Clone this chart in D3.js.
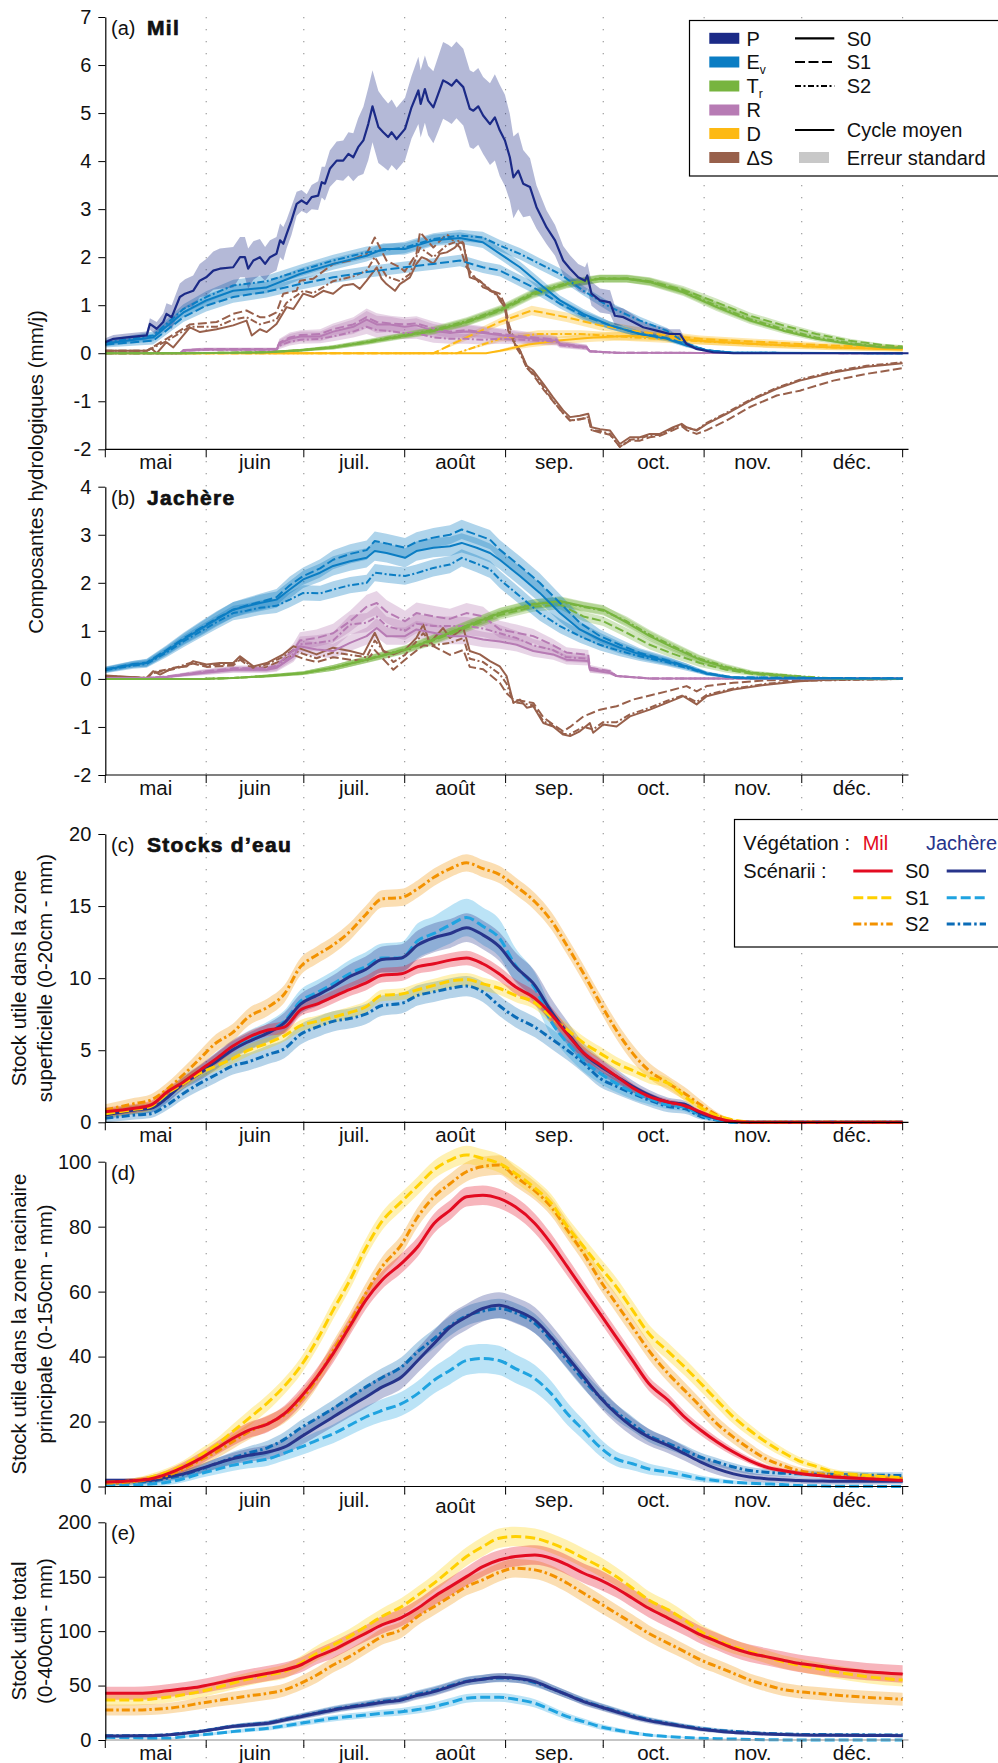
<!DOCTYPE html>
<html><head><meta charset="utf-8">
<script src="https://cdn.jsdelivr.net/npm/d3@7"></script>
<style>body{margin:0;background:#fff}svg{display:block}text{font-family:"Liberation Sans",Arial,sans-serif;fill:#111}</style>
</head><body><svg id="chart" width="998" height="1763"></svg>
<script>
// ---------- categories / ticks ----------
const monthNames = ["mai","juin","juil.","août","sep.","oct.","nov.","déc."];
const monthStarts = [0,31,61,92,123,153,184,214,245];
const ticksA = [-2,-1,0,1,2,3,4,5,6,7];
const ticksB = [-2,-1,0,1,2,3,4];
const ticksC = [0,5,10,15,20];
const ticksD = [0,20,40,60,80,100];
const ticksE = [0,50,100,150,200];
const varNames = ["P","E","T","R","D","ΔS"];
const varSubs = ["","v","r","","",""];
const scenarioNames = ["S0","S1","S2"];

// ---------- panel (a) Mil : [day, mean, se] ----------
const milP = [[0,0.23,0.08],[2.5,0.3,0.08],[6.6,0.33,0.08],[12.7,0.37,0.08],[13.7,0.61,0.12],[15.8,0.51,0.14],[17.8,0.65,0.18],[18.8,0.82,0.22],[20.4,0.75,0.25],[22.9,1.17,0.28],[24.5,1.24,0.3],[27,1.3,0.32],[29,1.51,0.35],[31,1.58,0.38],[33.2,1.72,0.4],[35.2,1.76,0.42],[39.3,1.79,0.42],[41.4,2.0,0.42],[42.9,2.0,0.42],[43.9,1.76,0.42],[45.5,1.93,0.4],[47.5,2.0,0.38],[49.1,1.86,0.35],[50.6,2.0,0.35],[52.6,2.07,0.35],[53.7,2.35,0.35],[54.7,2.28,0.35],[55.7,2.48,0.3],[57.2,2.76,0.3],[58.8,3.11,0.25],[60.3,3.18,0.22],[61.9,3.11,0.2],[63.4,3.25,0.25],[65.4,3.28,0.3],[66.5,3.56,0.32],[67.5,3.53,0.35],[69,3.84,0.38],[71.1,4.01,0.4],[73.1,4.01,0.42],[74.7,4.15,0.45],[76.2,4.08,0.5],[77.7,4.29,0.6],[79.3,4.43,0.7],[80.8,4.77,0.75],[82.1,5.14,0.75],[83.9,4.71,0.75],[85.4,4.6,0.72],[86.9,4.5,0.7],[88,4.6,0.68],[89.5,4.46,0.65],[92.1,4.67,0.65],[94.1,5.12,0.65],[96.2,5.47,0.7],[96.9,5.19,0.7],[98.2,5.5,0.7],[99.2,5.26,0.72],[100.8,5.12,0.75],[102.3,5.4,0.78],[103.8,5.68,0.8],[105.4,5.62,0.8],[106.4,5.57,0.8],[107.9,5.69,0.8],[110,5.54,0.8],[112,5.09,0.8],[113.1,5.05,0.8],[114.6,5.14,0.8],[116.1,4.95,0.8],[118.2,4.77,0.85],[119.7,4.91,0.9],[121.2,4.64,0.95],[122.8,4.43,0.95],[124.3,4.08,0.9],[125.4,3.66,0.85],[126.9,3.8,0.8],[128.4,3.53,0.7],[130.5,3.46,0.6],[132.5,3.04,0.45],[135.6,2.62,0.35],[138.2,2.35,0.32],[140.7,1.93,0.3],[142.8,1.76,0.28],[145.3,1.58,0.28],[147.4,1.51,0.28],[148.1,1.62,0.28],[149.4,1.24,0.25],[152,1.1,0.25],[155.1,1.06,0.25],[156.6,0.78,0.2],[159.2,0.75,0.18],[162.2,0.65,0.15],[165.3,0.54,0.12],[169.4,0.47,0.1],[173.5,0.4,0.1],[176.6,0.4,0.1],[178.6,0.19,0.05],[181.7,0.09,0.03],[186.8,0.02,0.01],[193,0,0],[246.8,0,0]];

const milEvS0 = [[0,0.2,0.06],[14.7,0.33,0.08],[24,0.85,0.1],[31,1.1,0.12],[39.3,1.3,0.12],[49.6,1.37,0.12],[59.8,1.65,0.12],[70,1.86,0.12],[80.3,2.03,0.12],[85.4,2.17,0.12],[92,2.17,0.12],[100.8,2.35,0.12],[109,2.4,0.12],[116,2.31,0.12],[121.3,2.07,0.12],[127.4,1.79,0.12],[133.5,1.44,0.12],[139.7,1.1,0.1],[146.9,0.82,0.1],[155.1,0.58,0.08],[164.3,0.4,0.06],[172.5,0.3,0.05],[178.6,0.16,0.04],[184.8,0.06,0.02],[193,0.01,0.01],[245,0,0]];
const milEvS1 = [[0,0.18,0.06],[14.7,0.26,0.08],[24,0.75,0.1],[31,0.99,0.12],[39.3,1.17,0.12],[49.6,1.28,0.12],[59.8,1.44,0.12],[70,1.58,0.12],[80.3,1.69,0.12],[92,1.79,0.12],[100.8,1.86,0.12],[109,1.93,0.12],[116,1.79,0.12],[121.3,1.72,0.12],[127.4,1.51,0.12],[133.5,1.3,0.12],[139.7,1.03,0.1],[146.9,0.78,0.1],[155.1,0.58,0.08],[164.3,0.4,0.06],[172.5,0.32,0.05],[178.6,0.18,0.04],[184.8,0.06,0.02],[193,0.01,0.01],[245,0,0]];
const milEvS2 = [[0,0.22,0.06],[14.7,0.37,0.08],[24,0.92,0.1],[31,1.17,0.12],[39.3,1.41,0.12],[49.6,1.5,0.12],[59.8,1.72,0.12],[70,1.93,0.12],[80.3,2.1,0.12],[92,2.2,0.12],[100.8,2.38,0.12],[109,2.45,0.12],[116,2.41,0.12],[121.3,2.24,0.12],[127.4,2.07,0.12],[133.5,1.86,0.12],[139.7,1.65,0.12],[146.9,1.3,0.1],[155.1,0.96,0.1],[164.3,0.68,0.08],[172.5,0.47,0.06],[178.6,0.2,0.04],[184.8,0.06,0.02],[193,0.01,0.01],[245,0,0]];

const milTrS0 = [[0,0,0],[25,0,0],[49.6,0.02,0.02],[59.8,0.06,0.03],[70,0.12,0.04],[80.3,0.23,0.05],[92,0.37,0.06],[100.8,0.47,0.07],[111,0.65,0.08],[121.3,0.9,0.08],[131.5,1.24,0.08],[141.7,1.44,0.08],[152,1.55,0.08],[160.2,1.55,0.08],[167.3,1.48,0.08],[177.6,1.27,0.08],[187.8,0.96,0.08],[198.1,0.68,0.07],[208.3,0.47,0.06],[218.5,0.3,0.05],[228.8,0.19,0.04],[239,0.12,0.03],[245,0.11,0.03]];
const milTrS1 = [[0,0,0],[25,0,0],[49.6,0.02,0.02],[59.8,0.06,0.03],[70,0.12,0.04],[80.3,0.22,0.05],[92,0.36,0.06],[100.8,0.46,0.07],[111,0.64,0.08],[121.3,0.88,0.08],[131.5,1.22,0.08],[141.7,1.43,0.08],[152,1.55,0.08],[160.2,1.56,0.08],[167.3,1.5,0.08],[177.6,1.32,0.08],[187.8,1.06,0.08],[198.1,0.78,0.07],[208.3,0.58,0.06],[218.5,0.4,0.05],[228.8,0.26,0.04],[239,0.17,0.03],[245,0.14,0.03]];
const milTrS2 = [[0,0,0],[25,0,0],[49.6,0.02,0.02],[59.8,0.06,0.03],[70,0.13,0.04],[80.3,0.24,0.05],[92,0.38,0.06],[100.8,0.49,0.07],[111,0.67,0.08],[121.3,0.92,0.08],[131.5,1.26,0.08],[141.7,1.46,0.08],[152,1.56,0.08],[160.2,1.55,0.08],[167.3,1.49,0.08],[177.6,1.29,0.08],[187.8,0.99,0.08],[198.1,0.71,0.07],[208.3,0.5,0.06],[218.5,0.33,0.05],[228.8,0.21,0.04],[239,0.13,0.03],[245,0.12,0.03]];

const milRS0 = [[0,0,0],[23,0,0],[24,0.06,0.03],[30.6,0.08,0.03],[52.6,0.08,0.03],[53.5,0.2,0.08],[56.7,0.3,0.1],[60,0.35,0.1],[66,0.35,0.1],[70,0.45,0.12],[76.2,0.55,0.15],[80.3,0.7,0.18],[83.4,0.6,0.18],[87.5,0.6,0.16],[92,0.55,0.15],[95.6,0.58,0.15],[100.8,0.47,0.14],[105.9,0.42,0.13],[111,0.45,0.13],[116.1,0.42,0.12],[121.2,0.38,0.12],[131.5,0.3,0.1],[138.7,0.26,0.08],[139.7,0.19,0.06],[147.9,0.12,0.05],[148.9,0.04,0.02],[157,0.01,0],[245,0,0]];
const milRS1 = [[0,0,0],[23,0,0],[24,0.06,0.03],[30.6,0.09,0.03],[52.6,0.09,0.03],[53.5,0.22,0.08],[56.7,0.33,0.1],[60,0.38,0.1],[66,0.4,0.1],[70,0.5,0.12],[76.2,0.6,0.15],[80.3,0.75,0.18],[83.4,0.65,0.18],[87.5,0.62,0.16],[92,0.6,0.15],[95.6,0.62,0.15],[100.8,0.52,0.14],[105.9,0.45,0.13],[111,0.48,0.13],[116.1,0.44,0.12],[121.2,0.4,0.12],[131.5,0.33,0.1],[138.7,0.28,0.08],[139.7,0.2,0.06],[147.9,0.13,0.05],[148.9,0.04,0.02],[157,0.01,0],[245,0,0]];
const milRS2 = [[0,0,0],[23,0,0],[24,0.05,0.03],[30.6,0.07,0.03],[52.6,0.07,0.03],[53.5,0.16,0.07],[56.7,0.24,0.08],[60,0.28,0.08],[66,0.3,0.09],[70,0.35,0.1],[76.2,0.45,0.12],[80.3,0.55,0.15],[83.4,0.48,0.15],[87.5,0.46,0.14],[92,0.42,0.13],[95.6,0.42,0.12],[100.8,0.33,0.11],[105.9,0.3,0.1],[111,0.3,0.1],[116.1,0.28,0.1],[121.2,0.3,0.1],[131.5,0.27,0.09],[138.7,0.24,0.08],[139.7,0.17,0.06],[147.9,0.11,0.05],[148.9,0.04,0.02],[157,0.01,0],[245,0,0]];

const milDS0 = [[0,0,0],[117,0,0],[121.3,0.05,0.03],[130,0.18,0.06],[140,0.27,0.08],[150,0.33,0.09],[160,0.36,0.09],[170,0.35,0.09],[182.7,0.26,0.08],[203.2,0.18,0.07],[223.7,0.12,0.06],[245,0.08,0.05]];
const milDS1 = [[0,0,0],[100.8,0,0],[110,0.3,0.06],[121.2,0.65,0.08],[131,0.89,0.1],[141.7,0.75,0.1],[152,0.58,0.1],[162.2,0.47,0.09],[172.5,0.37,0.08],[182.7,0.3,0.07],[193,0.26,0.07],[203.2,0.23,0.06],[213.4,0.19,0.06],[223.7,0.16,0.05],[233.9,0.14,0.05],[245,0.11,0.05]];
const milDS2 = [[0,0,0],[108,0,0],[121.2,0.3,0.06],[133,0.4,0.08],[146,0.4,0.08],[162.2,0.33,0.08],[182.7,0.25,0.07],[203.2,0.18,0.06],[223.7,0.12,0.05],[245,0.09,0.05]];

const milDeltaS0 = [[0,0.05],[12.7,0.05],[14.2,0.1],[15.8,0.0],[18.8,0.23],[20.9,0.12],[26,0.54],[29.1,0.44],[34.2,0.5],[39.3,0.58],[43.4,0.68],[45,0.37],[47.5,0.5],[49.6,0.44],[52.6,0.61],[55.7,0.96],[57.8,0.92],[60.8,1.24],[63.9,1.17],[67,1.3],[70,1.24],[73.1,1.41],[76.2,1.44],[78.2,1.34],[80.3,1.51],[83.4,1.79],[84.9,1.55],[86.4,1.44],[89,1.3],[90.5,1.44],[93.6,1.58],[95.6,1.86],[97.2,2.0],[98.7,1.96],[100.8,1.86],[102.8,2.07],[104.9,2.1],[107.4,2.2],[109,2.31],[110,2.28],[112,1.58],[115.1,1.51],[118.2,1.3],[120.2,1.24],[121.2,1.1],[122.8,0.96],[123.8,0.47],[125.9,0.19],[127.4,0.06],[129.5,-0.26],[131.5,-0.36],[134.6,-0.64],[137.6,-0.92],[140.7,-1.19],[142.8,-1.33],[145.8,-1.3],[148.4,-1.26],[149.4,-1.54],[152,-1.58],[155.1,-1.61],[158.1,-1.89],[161.2,-1.75],[164.3,-1.75],[167.3,-1.68],[170.4,-1.68],[174.5,-1.54],[177.1,-1.47],[178.6,-1.54],[181.7,-1.61],[184.8,-1.47],[190.9,-1.26],[198.1,-0.99],[206.3,-0.74],[213.4,-0.57],[223.7,-0.4],[233.9,-0.28],[245,-0.21]];
const milDeltaS1 = [[0,0.05],[12.7,0.05],[18.8,0.3],[26,0.6],[34.2,0.65],[39.3,0.82],[43.4,0.89],[47.5,0.75],[49.6,0.75],[52.6,0.85],[54.7,1.24],[58.8,1.3],[59.8,1.51],[63.9,1.55],[70,1.86],[75.2,1.93],[80.3,2.07],[82.8,2.41],[86.4,1.93],[90.5,1.79],[92,1.7],[95.6,2.07],[96.7,2.52],[100.8,2.2],[104.9,2.48],[109,2.2],[111,1.79],[116.1,1.37],[121.2,1.24],[122.8,1.0],[124,0.6],[126,0.2],[127.4,0.06],[129.5,-0.3],[131.5,-0.45],[134.6,-0.75],[137.6,-1.0],[140.7,-1.25],[142.8,-1.4],[145.8,-1.37],[148.4,-1.35],[149.4,-1.6],[152,-1.65],[155.1,-1.7],[158.1,-1.95],[161.2,-1.82],[164.3,-1.82],[167.3,-1.75],[170.4,-1.72],[174.5,-1.6],[177.1,-1.52],[178.6,-1.6],[181.7,-1.68],[184.8,-1.6],[190.9,-1.4],[198.1,-1.12],[206.3,-0.88],[213.4,-0.78],[223.7,-0.57],[233.9,-0.43],[245,-0.31]];
const milDeltaS2 = [[0,0.05],[12.7,0.05],[18.8,0.25],[26,0.55],[34.2,0.55],[39.3,0.7],[43.4,0.75],[47.5,0.6],[52.6,0.7],[55.7,1.05],[60.8,1.3],[63.9,1.25],[70,1.5],[76.2,1.6],[80.3,1.72],[82.8,2.0],[86.4,1.6],[90.5,1.5],[93.6,1.65],[96.7,2.2],[100.8,2.0],[104.9,2.25],[109,2.35],[110,2.3],[112,1.65],[116.1,1.45],[121.2,1.15],[122.8,0.95],[124,0.5],[126,0.15],[127.4,0.0],[129.5,-0.3],[131.5,-0.42],[134.6,-0.7],[137.6,-1.0],[140.7,-1.25],[142.8,-1.4],[145.8,-1.38],[148.4,-1.33],[149.4,-1.6],[152,-1.62],[155.1,-1.68],[158.1,-1.95],[161.2,-1.8],[164.3,-1.78],[167.3,-1.7],[170.4,-1.7],[174.5,-1.56],[177.1,-1.5],[178.6,-1.55],[181.7,-1.6],[184.8,-1.45],[190.9,-1.24],[198.1,-0.97],[206.3,-0.72],[213.4,-0.55],[223.7,-0.38],[233.9,-0.26],[245,-0.19]];

// ---------- panel (b) Jachère ----------
const jacEvS0 = [[0,0.19,0.06],[8.6,0.3,0.07],[12.7,0.33,0.08],[18.8,0.58,0.1],[24,0.82,0.12],[29.1,1.03,0.14],[34.2,1.24,0.15],[39.3,1.44,0.16],[43.4,1.51,0.16],[47.5,1.58,0.17],[52.6,1.65,0.17],[56.7,1.86,0.18],[60.8,2.07,0.18],[66,2.21,0.19],[70,2.35,0.2],[75.2,2.45,0.2],[80.3,2.52,0.2],[82.8,2.66,0.2],[86.4,2.62,0.2],[92.1,2.52,0.2],[95.6,2.66,0.2],[100.8,2.73,0.2],[105.9,2.76,0.2],[109.5,2.83,0.2],[114.1,2.73,0.2],[118.2,2.62,0.2],[121.2,2.48,0.2],[127.4,2.14,0.2],[133.5,1.79,0.2],[139.7,1.37,0.18],[145.8,1.03,0.16],[152,0.82,0.14],[158.1,0.65,0.12],[164.3,0.51,0.1],[172.5,0.37,0.08],[178.6,0.26,0.06],[184.8,0.11,0.04],[190.9,0.04,0.02],[198.1,0.01,0.01],[245,0.01,0]];
const jacEvS1 = [[0,0.2,0.06],[8.6,0.31,0.07],[12.7,0.34,0.08],[18.8,0.6,0.1],[24,0.84,0.12],[29.1,1.05,0.14],[34.2,1.26,0.15],[39.3,1.44,0.16],[43.4,1.53,0.16],[47.5,1.6,0.17],[52.6,1.7,0.17],[56.7,1.95,0.18],[60.8,2.14,0.18],[66,2.3,0.19],[70,2.48,0.2],[75.2,2.6,0.2],[80.3,2.68,0.2],[82.8,2.87,0.2],[86.4,2.82,0.2],[92.1,2.73,0.2],[95.6,2.85,0.2],[100.8,2.94,0.2],[105.9,3.0,0.2],[109.5,3.11,0.2],[114.1,3.0,0.2],[118.2,2.9,0.2],[121.2,2.69,0.2],[127.4,2.35,0.2],[133.5,2.0,0.2],[139.7,1.58,0.18],[145.8,1.17,0.16],[152,0.89,0.14],[158.1,0.71,0.12],[164.3,0.54,0.1],[172.5,0.39,0.08],[178.6,0.26,0.06],[184.8,0.12,0.04],[193,0.03,0.02],[245,0.01,0]];
const jacEvS2 = [[0,0.18,0.06],[8.6,0.28,0.07],[12.7,0.31,0.08],[18.8,0.55,0.1],[24,0.78,0.12],[29.1,0.98,0.13],[34.2,1.18,0.14],[39.3,1.37,0.15],[43.4,1.42,0.15],[47.5,1.48,0.15],[52.6,1.52,0.15],[56.7,1.65,0.16],[60.8,1.79,0.16],[66,1.78,0.16],[70,1.86,0.17],[75.2,1.95,0.17],[80.3,2.0,0.17],[82.8,2.21,0.18],[86.4,2.18,0.18],[92.1,2.14,0.18],[95.6,2.2,0.18],[100.8,2.31,0.18],[105.9,2.38,0.18],[109.5,2.52,0.18],[114.1,2.4,0.18],[118.2,2.28,0.18],[121.2,2.07,0.18],[127.4,1.72,0.17],[133.5,1.37,0.16],[139.7,1.1,0.15],[145.8,0.89,0.14],[152,0.71,0.12],[158.1,0.58,0.11],[164.3,0.47,0.1],[172.5,0.35,0.08],[178.6,0.23,0.06],[184.8,0.11,0.04],[193,0.03,0.02],[245,0.01,0]];

const jacTrS0 = [[0,0,0],[30,0,0],[39.3,0.02,0.01],[49.6,0.06,0.03],[60.8,0.12,0.04],[70,0.23,0.06],[80.3,0.4,0.07],[92.1,0.61,0.08],[100.8,0.82,0.1],[111,1.1,0.1],[121.2,1.37,0.1],[131.5,1.55,0.1],[139.7,1.62,0.1],[146.9,1.51,0.1],[153,1.44,0.1],[160.2,1.17,0.1],[167.3,0.89,0.1],[174.5,0.65,0.09],[182.7,0.4,0.08],[190.9,0.23,0.06],[199.1,0.12,0.04],[208.3,0.07,0.03],[218.5,0.02,0.01],[228.8,0,0],[245,0,0]];
const jacTrS1 = [[0,0,0],[30,0,0],[39.3,0.02,0.01],[49.6,0.06,0.03],[60.8,0.12,0.04],[70,0.23,0.06],[80.3,0.4,0.07],[92.1,0.6,0.08],[100.8,0.8,0.1],[111,1.07,0.1],[121.2,1.33,0.1],[131.5,1.5,0.1],[139.7,1.55,0.1],[146.9,1.3,0.1],[153,1.2,0.1],[160.2,0.96,0.1],[167.3,0.71,0.1],[174.5,0.52,0.09],[182.7,0.33,0.08],[190.9,0.19,0.06],[199.1,0.1,0.04],[208.3,0.05,0.03],[218.5,0.02,0.01],[228.8,0,0],[245,0,0]];
const jacTrS2 = [[0,0,0],[30,0,0],[39.3,0.02,0.01],[49.6,0.06,0.03],[60.8,0.12,0.04],[70,0.23,0.06],[80.3,0.41,0.07],[92.1,0.62,0.08],[100.8,0.83,0.1],[111,1.11,0.1],[121.2,1.38,0.1],[131.5,1.56,0.1],[139.7,1.6,0.1],[146.9,1.5,0.1],[153,1.42,0.1],[160.2,1.2,0.1],[167.3,0.92,0.1],[174.5,0.68,0.09],[182.7,0.42,0.08],[190.9,0.25,0.06],[199.1,0.13,0.04],[208.3,0.08,0.03],[218.5,0.03,0.01],[228.8,0,0],[245,0,0]];

const jacRS0 = [[0,0.02,0.01],[12.7,0.02,0.01],[18.8,0.04,0.02],[29.1,0.12,0.05],[39.3,0.19,0.06],[49.6,0.19,0.06],[52.6,0.23,0.08],[57.8,0.47,0.12],[59.8,0.68,0.15],[64.9,0.61,0.15],[70,0.58,0.15],[75.2,0.75,0.17],[80.3,0.89,0.18],[83.4,1.06,0.2],[86.4,0.89,0.18],[92.1,0.89,0.18],[95.6,1.03,0.18],[100.8,0.96,0.18],[105.9,0.89,0.17],[111,0.89,0.17],[116.1,0.82,0.16],[121.2,0.78,0.15],[126.4,0.71,0.14],[131.5,0.58,0.12],[137.6,0.51,0.11],[141.7,0.4,0.1],[148.4,0.37,0.09],[148.9,0.19,0.06],[155.1,0.12,0.04],[157.1,0.06,0.02],[167.3,0.01,0],[245,0.01,0]];
const jacRS1 = [[0,0.02,0.01],[12.7,0.02,0.01],[18.8,0.05,0.02],[29.1,0.14,0.05],[39.3,0.22,0.06],[49.6,0.22,0.06],[52.6,0.28,0.08],[57.8,0.6,0.14],[59.8,0.8,0.17],[64.9,0.85,0.18],[70,0.95,0.2],[75.2,1.2,0.22],[80.3,1.5,0.25],[83.4,1.58,0.25],[86.4,1.4,0.24],[92.1,1.2,0.22],[95.6,1.37,0.22],[100.8,1.3,0.22],[105.9,1.25,0.21],[111,1.37,0.21],[116.1,1.3,0.2],[121.2,1.03,0.18],[126.4,0.96,0.17],[131.5,0.89,0.15],[137.6,0.7,0.13],[141.7,0.55,0.11],[148.4,0.5,0.1],[148.9,0.23,0.06],[155.1,0.16,0.04],[157.1,0.06,0.02],[167.3,0.01,0],[245,0.01,0]];
const jacRS2 = [[0,0.02,0.01],[12.7,0.02,0.01],[18.8,0.04,0.02],[29.1,0.13,0.05],[39.3,0.2,0.06],[49.6,0.2,0.06],[52.6,0.25,0.08],[57.8,0.52,0.13],[59.8,0.72,0.16],[64.9,0.75,0.16],[70,0.8,0.17],[75.2,1.13,0.2],[80.3,1.17,0.2],[83.4,1.3,0.22],[86.4,1.1,0.2],[92.1,1.0,0.19],[95.6,1.15,0.2],[100.8,1.1,0.2],[105.9,1.1,0.2],[111,1.1,0.19],[116.1,1.05,0.18],[121.2,0.95,0.17],[126.4,0.85,0.15],[131.5,0.7,0.13],[137.6,0.6,0.12],[141.7,0.45,0.1],[148.4,0.42,0.09],[148.9,0.2,0.06],[155.1,0.14,0.04],[157.1,0.06,0.02],[167.3,0.01,0],[245,0.01,0]];

const jacDeltaS0 = [[0,0.07],[12.7,0.02],[14.7,0.16],[16.8,0.09],[20.9,0.23],[25,0.26],[27,0.37],[31.1,0.3],[35.2,0.33],[39.3,0.33],[41.4,0.47],[45.5,0.26],[49.6,0.33],[54.7,0.51],[57.8,0.68],[60.8,0.61],[64.9,0.51],[70,0.65],[75.2,0.58],[79.3,0.51],[82.8,0.96],[85.4,0.58],[88.5,0.51],[92.1,0.61],[95.6,0.85],[97.7,1.13],[99.7,0.75],[103.8,1.06],[105.9,0.85],[110,1.06],[112,0.58],[115.1,0.51],[118.2,0.37],[121.2,0.26],[123.3,0.06],[125.4,-0.5],[127.4,-0.43],[129.5,-0.6],[131.5,-0.57],[134.6,-0.92],[137.6,-0.99],[140.7,-1.16],[142.8,-1.19],[145.8,-1.09],[148.9,-0.92],[149.9,-1.12],[153,-0.95],[157.1,-0.99],[161.2,-0.78],[167.3,-0.64],[172.5,-0.5],[177.6,-0.36],[181.7,-0.53],[184.8,-0.36],[193,-0.22],[203.2,-0.12],[213.4,-0.05],[223.7,-0.01],[245,0]];
const jacDeltaS1 = [[0,0.05],[12.7,0.02],[14.7,0.12],[20.9,0.2],[27,0.32],[31.1,0.25],[39.3,0.28],[41.4,0.4],[45.5,0.2],[49.6,0.25],[54.7,0.4],[57.8,0.5],[60.8,0.42],[64.9,0.35],[70,0.45],[75.2,0.4],[80.3,0.37],[82.8,0.6],[88.5,0.19],[92.1,0.4],[97.7,0.7],[100.8,0.68],[105.9,0.5],[110,0.6],[112,0.25],[116.1,0.2],[121.2,-0.08],[123.3,-0.3],[125.4,-0.43],[131.5,-0.5],[134.6,-0.8],[137.6,-0.95],[140.7,-1.09],[142.8,-1.0],[146.9,-0.78],[152,-0.64],[157.1,-0.57],[162.2,-0.43],[172.5,-0.26],[178.6,-0.15],[181.7,-0.26],[184.8,-0.15],[193,-0.08],[203.2,-0.03],[245,0]];
const jacDeltaS2 = [[0,0.06],[12.7,0.02],[14.7,0.14],[20.9,0.22],[27,0.35],[31.1,0.28],[39.3,0.31],[41.4,0.44],[45.5,0.23],[49.6,0.3],[54.7,0.46],[57.8,0.6],[60.8,0.52],[64.9,0.43],[70,0.55],[75.2,0.5],[80.3,0.45],[82.8,0.8],[88.5,0.35],[92.1,0.5],[97.7,0.95],[100.8,0.7],[105.9,0.75],[110,0.85],[112,0.42],[116.1,0.35],[121.2,0.1],[123.3,-0.1],[125.4,-0.48],[131.5,-0.55],[134.6,-0.88],[137.6,-0.98],[140.7,-1.14],[142.8,-1.15],[146.9,-1.0],[149.9,-1.05],[153,-0.9],[157.1,-0.9],[161.2,-0.74],[167.3,-0.6],[172.5,-0.46],[177.6,-0.34],[181.7,-0.48],[184.8,-0.33],[193,-0.2],[203.2,-0.1],[213.4,-0.04],[245,0]];

// ---------- panels (c)-(e): shared day grid ----------
const gridDays = [0,9,14,19,24,29,34,39,44,50,55,60,65,70,75,80,85,91,96,101,106,111,116,121,126,132,137,142,147,152,157,162,167,173,178,183,188,193,198,203,208,213,219,224,234,245];

const cMilS0 = [0.74,0.97,1.2,2.1,2.8,3.6,4.4,5.25,5.9,6.4,6.6,7.8,8.2,8.7,9.2,9.65,10.2,10.3,10.8,11.0,11.25,11.4,11.0,10.3,9.4,8.6,7.5,6.1,4.8,4.0,3.2,2.4,1.8,1.4,1.15,0.7,0.28,0.05,0,0,0,0,0,0,0,0];
const cMilS0se = [0.3,0.3,0.3,0.3,0.35,0.35,0.4,0.4,0.4,0.4,0.45,0.45,0.45,0.45,0.45,0.5,0.5,0.5,0.5,0.5,0.5,0.5,0.5,0.5,0.5,0.5,0.5,0.5,0.45,0.4,0.35,0.3,0.25,0.2,0.2,0.15,0.1,0.05,0,0,0,0,0,0,0,0];
const cMilS1 = [0.6,0.9,1.1,2.0,2.7,3.4,3.9,4.4,5.0,5.5,6.0,6.7,7.0,7.3,7.6,8.0,8.8,8.9,9.2,9.5,9.8,9.9,9.6,9.3,8.8,8.3,7.3,6.4,5.5,4.8,4.1,3.6,3.1,2.7,1.8,1.0,0.45,0.16,0.02,0,0,0,0,0,0,0];
const cMilS1se = [0.3,0.3,0.3,0.3,0.35,0.35,0.35,0.35,0.4,0.4,0.4,0.4,0.4,0.4,0.4,0.4,0.4,0.4,0.45,0.45,0.45,0.45,0.45,0.45,0.45,0.45,0.45,0.45,0.45,0.45,0.45,0.4,0.4,0.35,0.3,0.2,0.15,0.1,0.02,0,0,0,0,0,0,0];
const cMilS2 = [0.86,1.3,1.55,2.3,3.3,4.4,5.5,6.2,7.3,8.0,8.9,10.8,11.6,12.3,13.2,14.4,15.5,15.6,16.2,17.0,17.6,18.0,17.6,17.2,16.4,15.3,14.0,12.2,10.3,8.3,6.4,4.8,3.6,2.7,2.0,1.2,0.5,0.1,0,0,0,0,0,0,0,0];
const cMilS2se = [0.4,0.4,0.4,0.45,0.5,0.55,0.6,0.6,0.6,0.6,0.6,0.6,0.6,0.6,0.6,0.6,0.6,0.6,0.6,0.6,0.6,0.6,0.6,0.6,0.6,0.6,0.6,0.6,0.6,0.6,0.6,0.6,0.55,0.5,0.45,0.35,0.2,0.1,0,0,0,0,0,0,0,0];
const cJacS0 = [0.5,0.86,0.97,1.7,2.7,3.4,4.2,5.0,5.6,6.2,6.9,8.2,8.8,9.4,10.1,10.6,11.3,11.4,12.3,12.8,13.1,13.5,13.0,12.2,10.8,9.5,7.7,6.2,4.8,3.9,3.2,2.5,1.9,1.4,1.25,0.6,0.28,0.05,0,0,0,0,0,0,0,0];
const cJacS0se = [0.3,0.3,0.3,0.35,0.4,0.5,0.55,0.6,0.6,0.65,0.7,0.7,0.75,0.8,0.85,0.9,0.9,0.95,1.0,1.0,1.0,1.0,1.0,1.0,1.0,1.0,0.9,0.8,0.7,0.6,0.5,0.4,0.35,0.3,0.25,0.2,0.1,0.05,0,0,0,0,0,0,0,0];
const cJacS1 = [0.6,0.9,1.0,1.8,2.8,3.5,4.3,5.1,5.7,6.3,7.0,8.4,9.0,9.6,10.3,10.8,11.4,11.4,12.6,13.1,13.7,14.2,13.6,12.8,10.9,9.3,7.0,5.5,4.3,3.4,2.7,2.1,1.66,1.2,1.05,0.5,0.16,0,0,0,0,0,0,0,0,0];
const cJacS1se = [0.3,0.3,0.35,0.4,0.45,0.5,0.55,0.6,0.65,0.7,0.75,0.8,0.85,0.9,0.95,1.0,1.0,1.1,1.2,1.2,1.3,1.3,1.3,1.3,1.2,1.1,1.0,0.9,0.8,0.7,0.6,0.5,0.4,0.3,0.3,0.2,0.1,0,0,0,0,0,0,0,0,0];
const cJacS2 = [0.28,0.5,0.6,1.2,2.0,2.7,3.3,3.9,4.2,4.7,5.1,6.1,6.6,7.0,7.2,7.5,8.1,8.25,8.8,9.05,9.3,9.45,9.05,8.1,7.3,6.6,5.8,5.0,4.1,3.05,2.5,2.0,1.55,1.1,0.95,0.4,0.16,0,0,0,0,0,0,0,0,0];
const cJacS2se = [0.3,0.3,0.3,0.35,0.4,0.5,0.55,0.6,0.6,0.65,0.65,0.7,0.7,0.7,0.7,0.7,0.7,0.7,0.7,0.7,0.7,0.7,0.7,0.7,0.7,0.7,0.7,0.7,0.7,0.6,0.55,0.5,0.45,0.4,0.35,0.2,0.1,0,0,0,0,0,0,0,0,0];

const dMilS0 = [1.3,1.85,2.4,3.9,6.0,8.5,11.6,14.7,17.3,19.3,22.4,27.5,33.7,40.9,49.1,57.3,63.5,68.7,73.8,81.0,85.1,89.2,89.7,88.7,86.1,81.0,74.8,67.6,60.4,53.2,46.0,38.8,31.7,26.5,21.4,17.3,13.7,10.6,8.0,6.0,4.9,4.1,3.4,2.9,2.4,1.85];
const dMilS0se = [0.8,0.8,1,1.2,1.5,1.8,2,2.2,2.4,2.5,2.5,2.6,2.7,2.8,2.8,2.8,2.8,3,3,3,3,3,3,3,3,3,3,2.8,2.6,2.5,2.5,2.4,2.2,2,1.8,1.6,1.4,1.2,1,0.8,0.7,0.6,0.5,0.5,0.5,0.5];
const dMilS1 = [1.3,1.85,2.9,4.4,6.5,9.6,12.6,16.8,20.9,25.9,30.9,37.0,45.0,54.3,63.2,73.3,81.6,87.7,92.6,97.5,100.5,102.1,101.0,99.5,96.4,91.9,87.2,80.0,73.8,67.6,61.5,54.3,47.1,41.5,36.8,31.7,26.5,21.4,17.3,13.7,10.6,8.0,6.0,4.4,3.4,2.7];
const dMilS1se = [0.8,0.8,1,1.2,1.5,1.8,2,2.2,2.4,2.5,2.5,2.6,2.7,2.8,2.8,2.8,2.8,2.8,2.8,2.8,2.8,2.8,2.8,2.8,2.8,2.8,2.8,2.8,2.8,2.8,2.8,2.8,2.8,2.7,2.6,2.5,2.3,2.1,1.9,1.6,1.4,1.2,1,0.9,0.8,0.8];
const dMilS2 = [1.0,1.5,2.4,3.4,5.4,8.0,10.6,13.7,16.8,19.5,22.0,26.5,33.2,41.9,50.2,59.4,67.6,74.5,83.0,89.2,93.3,96.9,98.5,99.0,95.4,91.0,86.1,78.9,71.7,63.5,56.3,49.1,41.9,34.7,29.6,24.5,19.3,15.2,11.6,8.5,6.5,4.9,4.0,3.4,2.9,2.4];
const dMilS2se = [0.8,0.8,1,1.2,1.5,1.8,2,2.2,2.4,2.5,2.5,2.6,2.7,2.8,3,3,3,3,3,3,3,3,3,3,3,2.8,2.8,2.8,2.8,2.8,2.8,2.8,2.7,2.6,2.5,2.4,2.2,2,1.8,1.5,1.3,1.1,1,0.9,0.8,0.8];
const dJacS0 = [1.85,1.85,1.9,2.9,3.9,5.4,7.0,8.5,9.6,10.6,12.1,15.2,18.3,21.4,24.5,27.5,30.6,33.7,38.8,44.0,49.1,52.2,54.8,55.8,54.3,51.2,46.0,39.9,33.7,27.5,22.4,18.3,15.2,12.6,10.1,7.5,5.4,3.9,2.9,2.4,2.1,1.85,1.7,1.6,1.6,1.6];
const dJacS0se = [0.8,0.8,0.9,1,1.2,1.4,1.6,1.8,2,2.2,2.4,2.6,2.8,3,3.2,3.4,3.5,3.6,3.8,4,4,4,4,4,4,4,3.8,3.6,3.4,3.2,3,2.8,2.6,2.4,2.2,2,1.8,1.6,1.4,1.2,1.1,1,1,1,1,1];
const dJacS1 = [0.3,0.5,0.8,1.3,2.4,3.9,5.2,6.5,7.5,8.5,10.3,12.1,14.2,16.2,18.8,21.4,23.4,25.5,28.6,32.7,35.8,38.8,39.4,38.8,36.3,33.2,28.6,22.4,17.3,12.1,8.5,7.0,5.4,4.4,3.4,2.4,1.8,1.3,1.0,0.8,0.6,0.3,0.2,0.1,0.05,0];
const dJacS1se = [0.5,0.6,0.7,0.9,1.1,1.3,1.5,1.7,1.9,2.1,2.3,2.5,2.7,2.9,3.1,3.3,3.5,3.7,3.9,4.1,4.3,4.5,4.5,4.5,4.4,4.2,3.9,3.5,3.1,2.7,2.3,2,1.7,1.4,1.2,1,0.8,0.6,0.5,0.4,0.3,0.2,0.1,0.1,0.05,0];
const dJacS2 = [1.0,1.3,1.6,2.5,3.6,5.2,7.0,8.8,10.3,12.0,14.5,18.0,21.0,24.0,27.3,30.6,33.5,36.8,41.5,45.5,49.5,52.5,54.0,54.8,53.5,50.2,45.0,38.8,32.7,27.5,22.9,19.3,15.7,13.2,11.1,9.0,7.5,6.0,4.9,4.4,4.1,3.9,3.8,3.7,3.5,3.4];
const dJacS2se = [0.6,0.7,0.8,1,1.2,1.4,1.6,1.8,2,2.2,2.3,2.4,2.5,2.6,2.7,2.8,2.9,3,3,3,3,3,3,3,3,3,2.9,2.8,2.7,2.6,2.4,2.2,2,1.8,1.6,1.4,1.3,1.2,1.1,1,1,1,1,1,1,1];

const eMilS0 = [42.9,42.9,43.5,45.3,47.0,49.0,52.0,55.1,58.0,61.3,64.3,68.9,76.6,82.7,90.4,98.0,105.7,112.5,121.0,131.7,140.9,150.1,159.3,165.4,168.5,170.0,167.0,160.8,153.2,147.1,139.4,130.2,121.0,111.8,104.2,96.5,90.4,84.3,79.7,76.6,73.5,70.5,68.0,65.9,62.8,60.7];
const eMilS0se = [6,6,6,6,6,6.5,6.5,7,7,7,7,7,7,7.5,7.5,7.5,8,8,8,8,8.5,8.5,9,9,9,9,9,9,9,9,8.5,8.5,8.5,8.5,8,8,8,8,8,8,8,8,8,8,8,8];
const eMilS1 = [36.8,36.8,37.5,39.2,41.5,44.4,48.0,52.1,56.0,59.7,62.8,70.5,79.7,87.3,95.0,104.2,113.4,122.5,133.0,144.0,156.3,168.5,177.7,185.4,186.9,185.4,180.8,174.6,167.0,159.3,150.1,139.4,128.7,119.5,110.3,99.6,91.9,85.8,81.2,76.6,72.0,68.9,65.5,62.8,58.2,55.1];
const eMilS1se = [5,5,5,5,5,5.5,5.5,6,6,6,6.5,6.5,7,7,7,7.5,7.5,8,8,8,8.5,8.5,9,9,9,9,9,9,9,9,8.5,8.5,8,8,7.5,7,7,6.5,6,6,6,6,6,6,6,6];
const eMilS2 = [27.6,27.6,28.0,29.1,31.0,33.7,36.0,38.3,40.5,42.9,46.0,52.1,59.7,68.9,76.6,85.8,95.0,101.5,113.4,122.5,131.7,140.9,147.1,154.0,157.8,156.3,151.7,144.0,134.8,125.6,116.4,107.2,98.0,88.8,81.2,73.5,67.4,61.3,55.1,50.6,46.6,44.4,42.8,41.4,39.2,37.4];
const eMilS2se = [5,5,5,5,5,5.5,5.5,6,6,6,6,6.5,7,7,7,7,7.5,7.5,8,8,8,8,8.5,8.5,8.5,8.5,8.5,8.5,8.5,8.5,8,8,7.5,7.5,7,7,6.5,6.5,6,6,6,6,6,6,6,6];
const eJacS0 = [3.7,3.8,4.0,4.6,6.0,7.7,10.0,12.3,13.8,15.3,18.4,21.4,24.5,27.6,30.0,32.2,34.5,36.8,41.0,44.4,49.0,53.6,55.8,57.6,56.7,53.6,47.5,41.4,35.2,30.6,26.0,21.4,17.8,14.7,12.3,9.8,8.3,7.0,6.2,5.5,5.0,4.6,4.4,4.3,4.1,4.0];
const eJacS0se = [1,1,1,1,1.2,1.4,1.6,1.8,2,2.2,2.4,2.6,2.8,3,3,3.2,3.4,3.6,3.8,4,4,4,4,4,4,4,3.8,3.6,3.4,3.2,3,2.8,2.6,2.4,2.2,2,1.8,1.6,1.5,1.4,1.3,1.2,1.2,1.2,1.2,1.2];
const eJacS1 = [2.5,2.0,1.6,1.5,3.0,4.6,6.0,7.7,9.2,10.7,13.0,15.3,17.6,19.9,21.5,23.0,24.5,26.0,28.0,30.6,34.5,38.3,39.2,39.2,37.4,33.7,27.6,21.4,16.9,12.3,9.2,6.7,4.6,3.1,2.3,1.5,1.2,0.9,0.5,0.2,0.1,0,0,0,0,0];
const eJacS1se = [0.8,0.8,0.8,0.8,1,1.2,1.4,1.6,1.8,2,2.2,2.4,2.6,2.8,3,3,3.2,3.4,3.6,3.8,4,4,4,4,4,3.8,3.5,3.2,2.9,2.6,2.2,1.8,1.4,1,0.8,0.6,0.5,0.4,0.3,0.2,0.1,0,0,0,0,0];
const eJacS2 = [3.9,4.0,4.2,4.8,6.3,8.0,10.3,12.6,14.2,15.8,18.9,21.9,25.0,28.2,30.7,33.0,35.5,37.8,42.0,45.3,49.8,54.0,56.0,57.0,56.5,52.7,47.5,41.5,35.8,31.0,26.6,22.3,18.6,15.3,12.7,10.7,9.0,7.9,6.9,6.0,5.5,5.2,5.0,4.9,4.7,4.6];
const eJacS2se = [1,1,1,1,1.2,1.4,1.6,1.8,2,2.2,2.4,2.6,2.8,3,3,3.2,3.4,3.6,3.8,4,4,4,4,4,4,4,3.8,3.6,3.4,3.2,3,2.8,2.6,2.4,2.2,2,1.8,1.6,1.5,1.4,1.3,1.2,1.2,1.2,1.2,1.2];

// ---------- styling ----------
const COL = {P:'#1b2a87', Ev:'#0b7dc3', Tr:'#77b43f', R:'#b77bb4', D:'#fdb913', dS:'#98604b',
  milS0:'#e30b21', milS1:'#ffd000', milS2:'#f39200', jacS0:'#27348b', jacS1:'#1fa3e0', jacS2:'#0b6cb7'};
const varColors = [COL.P, COL.Ev, COL.Tr, COL.R, COL.D, COL.dS];
const dashAB = [null, '9,3.5', '7,2.5,2,2.5'];
const dashCE = [null, '10,4', '8,3,2.5,3'];
const FONT = '"Liberation Sans", Arial, sans-serif';

const svg = d3.select('#chart');
const x = d3.scaleLinear().domain([0, 246.8]).range([105.3, 908.5]);

const layout = {
  a: {top:17, bottom:449.3, domain:[-2,7], ticks:ticksA, label:'(a)', title:'Mil'},
  b: {top:486.7, bottom:775, domain:[-2,4], ticks:ticksB, label:'(b)', title:'Jachère'},
  c: {top:834, bottom:1122.3, domain:[0,20], ticks:ticksC, label:'(c)', title:'Stocks d’eau'},
  d: {top:1161.7, bottom:1486.5, domain:[0,100], ticks:ticksD, label:'(d)', title:''},
  e: {top:1522.3, bottom:1740, domain:[0,200], ticks:ticksE, label:'(e)', title:''}
};

// dotted month grid (whole figure)
svg.append('g').selectAll('line').data(monthStarts.slice(1)).join('line')
  .attr('x1', d => x(d)).attr('x2', d => x(d)).attr('y1', 17).attr('y2', 1763)
  .attr('stroke', '#8a8a8a').attr('stroke-width', 1).attr('stroke-dasharray', '1.3,10.7');

function grid(vals, se) { return gridDays.map((d, i) => [d, vals[i], se[i]]); }

function drawPanel(key, series, opt) {
  const L = layout[key];
  const y = d3.scaleLinear().domain(L.domain).range([L.bottom, L.top]);
  const g = svg.append('g');
  series.filter(s => s.band).forEach(s => {
    const area = d3.area().x(d => x(d[0])).y0(d => y(d[1] - d[2])).y1(d => y(d[1] + d[2])).curve(opt.curve);
    g.append('path').datum(s.pts).attr('d', area).attr('fill', s.color).attr('fill-opacity', opt.bandOpacity);
  });
  series.forEach(s => {
    const line = d3.line().x(d => x(d[0])).y(d => y(d[1])).curve(opt.curve);
    g.append('path').datum(s.pts).attr('d', line).attr('fill', 'none')
      .attr('stroke', s.color).attr('stroke-width', s.width || opt.width)
      .attr('stroke-dasharray', opt.dash[s.sc]).attr('stroke-linejoin', 'round');
  });
  // y axis
  const ya = g.append('g').attr('transform', `translate(${x(0)},0)`)
    .call(d3.axisLeft(y).tickValues(L.ticks).tickFormat(d => String(d)).tickSize(7).tickSizeOuter(0).tickPadding(7));
  ya.attr('font-size', 20).attr('font-family', FONT);
  ya.select('.domain').attr('stroke-width', 1.2);
  ya.selectAll('text').attr('fill', '#111');
  // x axis
  const xa = g.append('g').attr('transform', `translate(0,${L.bottom})`);
  xa.append('line').attr('x1', x(0)).attr('x2', x(246.8)).attr('y1', 0).attr('y2', 0)
    .attr('stroke', opt.xAxisColor || '#000').attr('stroke-width', 1.2);
  xa.selectAll(null).data(monthStarts).join('line')
    .attr('x1', d => x(d)).attr('x2', d => x(d)).attr('y1', 0).attr('y2', 8)
    .attr('stroke', '#000').attr('stroke-width', 1);
  xa.selectAll(null).data(monthNames).join('text')
    .attr('x', (d, i) => x((monthStarts[i] + monthStarts[i + 1]) / 2))
    .attr('y', (d, i) => 20 + (opt.shiftMonth === i ? 6.5 : 0))
    .attr('text-anchor', 'middle').style('font-size', '20.5px').text(d => d);
  // panel label
  g.append('text').attr('x', 111).attr('y', L.top + 18).style('font-size', '20px').text(L.label);
  if (L.title) g.append('text').attr('x', 147).attr('y', L.top + 18)
    .style('font-size', '21px').style('font-weight', 'bold').style('letter-spacing', '1.3px')
    .attr('stroke', '#111').attr('stroke-width', 0.7).text(L.title);
}

// ---- panel a ----
const optAB = {curve: d3.curveLinear, width: 2, bandOpacity: 0.33, dash: dashAB};
drawPanel('a', [
  {pts: milP, color: COL.P, sc: 0, band: true, width: 2.2},
  {pts: milEvS0, color: COL.Ev, sc: 0, band: true}, {pts: milEvS1, color: COL.Ev, sc: 1, band: true}, {pts: milEvS2, color: COL.Ev, sc: 2, band: true},
  {pts: milTrS0, color: COL.Tr, sc: 0, band: true}, {pts: milTrS1, color: COL.Tr, sc: 1, band: true}, {pts: milTrS2, color: COL.Tr, sc: 2, band: true},
  {pts: milRS0, color: COL.R, sc: 0, band: true}, {pts: milRS1, color: COL.R, sc: 1, band: true}, {pts: milRS2, color: COL.R, sc: 2, band: true},
  {pts: milDS0, color: COL.D, sc: 0, band: true}, {pts: milDS1, color: COL.D, sc: 1, band: true}, {pts: milDS2, color: COL.D, sc: 2, band: true},
  {pts: milDeltaS0, color: COL.dS, sc: 0}, {pts: milDeltaS1, color: COL.dS, sc: 1}, {pts: milDeltaS2, color: COL.dS, sc: 2},
].reverse(), optAB);

// ---- panel b ----
drawPanel('b', [
  {pts: jacEvS0, color: COL.Ev, sc: 0, band: true}, {pts: jacEvS1, color: COL.Ev, sc: 1, band: true}, {pts: jacEvS2, color: COL.Ev, sc: 2, band: true},
  {pts: jacTrS0, color: COL.Tr, sc: 0, band: true}, {pts: jacTrS1, color: COL.Tr, sc: 1, band: true}, {pts: jacTrS2, color: COL.Tr, sc: 2, band: true},
  {pts: jacRS0, color: COL.R, sc: 0, band: true}, {pts: jacRS1, color: COL.R, sc: 1, band: true}, {pts: jacRS2, color: COL.R, sc: 2, band: true},
  {pts: jacDeltaS0, color: COL.dS, sc: 0}, {pts: jacDeltaS1, color: COL.dS, sc: 1}, {pts: jacDeltaS2, color: COL.dS, sc: 2},
].reverse(), optAB);

// ---- panels c, d, e ----
const optCE = {curve: d3.curveMonotoneX, width: 3, bandOpacity: 0.3, dash: dashCE};
function stockSeries(mS0, mS0se, mS1, mS1se, mS2, mS2se, jS0, jS0se, jS1, jS1se, jS2, jS2se) {
  return [
    {pts: grid(jS2, jS2se), color: COL.jacS2, sc: 2, band: true},
    {pts: grid(jS1, jS1se), color: COL.jacS1, sc: 1, band: true},
    {pts: grid(jS0, jS0se), color: COL.jacS0, sc: 0, band: true},
    {pts: grid(mS2, mS2se), color: COL.milS2, sc: 2, band: true},
    {pts: grid(mS1, mS1se), color: COL.milS1, sc: 1, band: true},
    {pts: grid(mS0, mS0se), color: COL.milS0, sc: 0, band: true}
  ];
}
drawPanel('c', stockSeries(cMilS0, cMilS0se, cMilS1, cMilS1se, cMilS2, cMilS2se, cJacS0, cJacS0se, cJacS1, cJacS1se, cJacS2, cJacS2se), optCE);
drawPanel('d', stockSeries(dMilS0, dMilS0se, dMilS1, dMilS1se, dMilS2, dMilS2se, dJacS0, dJacS0se, dJacS1, dJacS1se, dJacS2, dJacS2se), Object.assign({}, optCE, {shiftMonth: 3}));
drawPanel('e', stockSeries(eMilS0, eMilS0se, eMilS1, eMilS1se, eMilS2, eMilS2se, eJacS0, eJacS0se, eJacS1, eJacS1se, eJacS2, eJacS2se), Object.assign({}, optCE, {xAxisColor: '#8c8c8c'}));

// ---- y axis titles ----
function vtext(xp, yp, txt) {
  svg.append('text').attr('transform', `translate(${xp},${yp}) rotate(-90)`)
    .attr('text-anchor', 'middle').style('font-size', '20.5px').text(txt);
}
vtext(42.5, 472, 'Composantes hydrologiques (mm/j)');
vtext(25.5, 978, 'Stock utile dans la zone');
vtext(52, 978, 'superficielle (0-20cm - mm)');
vtext(25.5, 1324, 'Stock utile dans la zone racinaire');
vtext(52, 1324, 'principale (0-150cm - mm)');
vtext(25.5, 1631, 'Stock utile total');
vtext(52, 1631, '(0-400cm - mm)');

// ---- legend (a) ----
const lgA = svg.append('g');
lgA.append('rect').attr('x', 689.5).attr('y', 20.5).attr('width', 340).attr('height', 155.5)
  .attr('fill', '#fff').attr('stroke', '#000').attr('stroke-width', 1.2);
const rowsA = [38.3, 62, 86, 110, 133.5, 157.5];
varNames.forEach((nm, i) => {
  lgA.append('rect').attr('x', 709.3).attr('y', rowsA[i] - 5.5).attr('width', 30).attr('height', 11).attr('fill', varColors[i]);
  const t = lgA.append('text').attr('x', 746.5).attr('y', rowsA[i]).attr('dy', '0.36em').style('font-size', '20px');
  t.append('tspan').text(nm);
  if (varSubs[i]) t.append('tspan').attr('dy', 5).style('font-size', '12px').text(varSubs[i]);
});
scenarioNames.forEach((nm, i) => {
  lgA.append('line').attr('x1', 795).attr('x2', 834.3).attr('y1', rowsA[i]).attr('y2', rowsA[i])
    .attr('stroke', '#000').attr('stroke-width', 2.2).attr('stroke-dasharray', [null, '10,3.5', '6,2.5,2,2.5'][i]);
  lgA.append('text').attr('x', 846.7).attr('y', rowsA[i]).attr('dy', '0.36em').style('font-size', '20px').text(nm);
});
lgA.append('line').attr('x1', 795).attr('x2', 834.3).attr('y1', 130).attr('y2', 130).attr('stroke', '#000').attr('stroke-width', 2.2);
lgA.append('text').attr('x', 846.7).attr('y', 130).attr('dy', '0.36em').style('font-size', '20px').text('Cycle moyen');
lgA.append('rect').attr('x', 799).attr('y', rowsA[5] - 5.5).attr('width', 30).attr('height', 11).attr('fill', '#c8c8c8');
lgA.append('text').attr('x', 846.7).attr('y', rowsA[5]).attr('dy', '0.36em').style('font-size', '20px').text('Erreur standard');

// ---- legend (c) ----
const lgC = svg.append('g');
lgC.append('rect').attr('x', 734.5).attr('y', 819.5).attr('width', 300).attr('height', 127.5)
  .attr('fill', '#fff').attr('stroke', '#000').attr('stroke-width', 1.2);
lgC.append('text').attr('x', 743.3).attr('y', 842.7).attr('dy', '0.36em').style('font-size', '20px').text('Végétation :');
lgC.append('text').attr('x', 862.7).attr('y', 842.7).attr('dy', '0.36em').style('font-size', '20px').style('fill', COL.milS0).text('Mil');
lgC.append('text').attr('x', 926).attr('y', 842.7).attr('dy', '0.36em').style('font-size', '20px').style('fill', COL.jacS0).text('Jachère');
lgC.append('text').attr('x', 743.3).attr('y', 870.7).attr('dy', '0.36em').style('font-size', '20px').text('Scénarii :');
const rowsC = [871, 897.7, 924];
const milCols = [COL.milS0, COL.milS1, COL.milS2];
const jacCols = [COL.jacS0, COL.jacS1, COL.jacS2];
scenarioNames.forEach((nm, i) => {
  lgC.append('line').attr('x1', 853.3).attr('x2', 892.7).attr('y1', rowsC[i]).attr('y2', rowsC[i])
    .attr('stroke', milCols[i]).attr('stroke-width', 3).attr('stroke-dasharray', dashCE[i]);
  lgC.append('text').attr('x', 905).attr('y', rowsC[i]).attr('dy', '0.36em').style('font-size', '20px').text(nm);
  lgC.append('line').attr('x1', 946.7).attr('x2', 986).attr('y1', rowsC[i]).attr('y2', rowsC[i])
    .attr('stroke', jacCols[i]).attr('stroke-width', 3).attr('stroke-dasharray', dashCE[i]);
});
</script></body></html>
